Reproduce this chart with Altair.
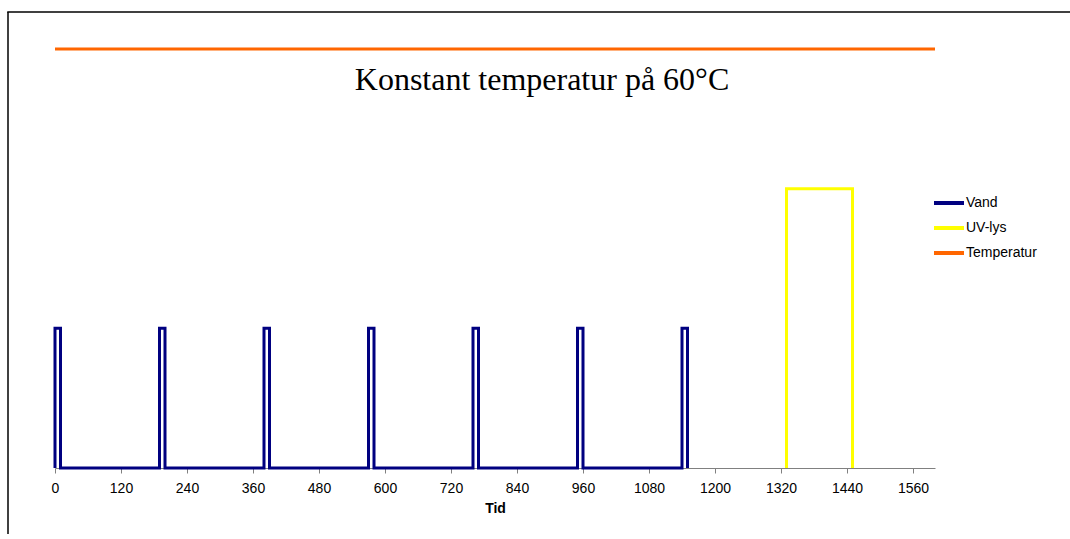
import altair as alt
import pandas as pd

# ---- data ----
series_names = ["Vand", "UV-lys", "Temperatur"]
series_colors = ["#000080", "#FFFF00", "#FF6600"]

vand_t = [0, 0, 10, 10, 190, 190, 200, 200, 380, 380, 390, 390, 570, 570, 580, 580,
          760, 760, 770, 770, 950, 950, 960, 960, 1140, 1140, 1150, 1150]
vand_v = [0, 1, 1, 0, 0, 1, 1, 0, 0, 1, 1, 0, 0, 1, 1, 0,
          0, 1, 1, 0, 0, 1, 1, 0, 0, 1, 1, 0]

uv_t = [1330, 1330, 1450, 1450]
uv_v = [0, 2, 2, 0]

temp_t = [0, 1600]
temp_v = [3, 3]

x_ticks = [0, 120, 240, 360, 480, 600, 720, 840, 960, 1080, 1200, 1320, 1440, 1560]
title_text = "Konstant temperatur på 60°C"
x_title = "Tid"

rows = []
for name, ts, vs in [("Vand", vand_t, vand_v), ("UV-lys", uv_t, uv_v), ("Temperatur", temp_t, temp_v)]:
    for i, (t, v) in enumerate(zip(ts, vs)):
        rows.append({"serie": name, "Tid": t, "v": v, "i": i})
df = pd.DataFrame(rows)

W, H = 880, 419

lines = alt.Chart(df).mark_line(strokeWidth=3, strokeJoin="miter").encode(
    x=alt.X("Tid:Q", scale=alt.Scale(domain=[0, 1600], nice=False, zero=False),
            axis=alt.Axis(values=x_ticks, format="d", title=x_title, grid=False,
                          domainColor="#808080", tickColor="#808080", tickSize=5,
                          labelFont="Liberation Sans", labelFontSize=14, labelColor="#000",
                          labelPadding=8, labelFlush=False,
                          titleFont="Liberation Sans", titleFontSize=14, titleFontWeight="bold",
                          titleColor="#000", titlePadding=6)),
    y=alt.Y("v:Q", scale=alt.Scale(domain=[0, 3], nice=False), axis=None),
    color=alt.Color("serie:N", sort=series_names,
                    scale=alt.Scale(domain=series_names, range=series_colors),
                    legend=alt.Legend(title=None, orient="none", legendX=877, legendY=137,
                                      symbolType="stroke", symbolSize=900, symbolStrokeWidth=4,
                                      labelFont="Liberation Sans", labelFontSize=14,
                                      labelColor="#000", labelOffset=0, rowPadding=-5)),
    order="i:Q",
)

title_df = pd.DataFrame({"t": [title_text]})
title = alt.Chart(title_df).mark_text(
    font="Liberation Serif", fontSize=32, color="#000", baseline="alphabetic", align="center"
).encode(text="t:N", x=alt.value(487), y=alt.value(41))

# chart-area border (only its left and top edges fall inside the picture)
frame_df = pd.DataFrame({"f": [1]})
frame_left = alt.Chart(frame_df).mark_rule(stroke="#000", strokeWidth=1.5).encode(
    x=alt.value(-47), y=alt.value(-37), y2=alt.value(H + 66)
)
frame_top = alt.Chart(frame_df).mark_rule(stroke="#000", strokeWidth=1.5).encode(
    x=alt.value(-47.75), x2=alt.value(W + 135), y=alt.value(-37)
)

chart = alt.layer(frame_left, frame_top, lines, title).properties(
    width=W, height=H,
    autosize=alt.AutoSizeParams(type="none"),
    padding={"left": 55, "top": 49, "right": 135, "bottom": 66},
    background="white",
).configure_view(stroke=None)

chart.save("out.html", embed_options={"renderer": "svg", "actions": False})
